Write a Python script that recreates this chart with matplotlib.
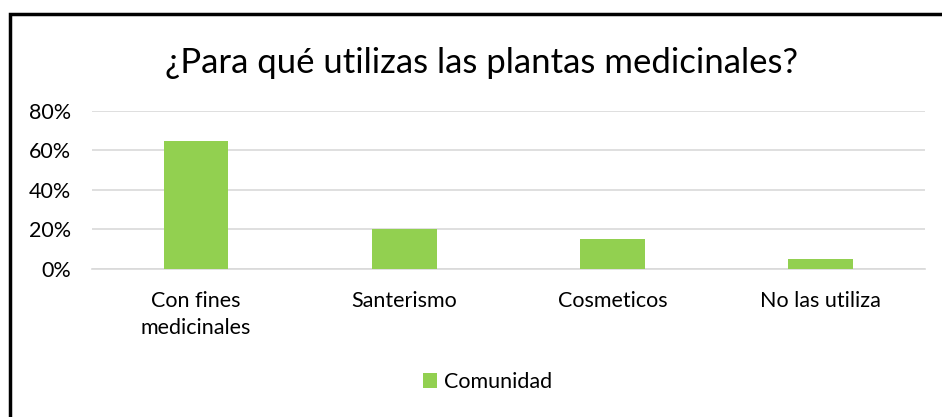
import matplotlib.pyplot as plt
from matplotlib.patches import Rectangle
from matplotlib.ticker import PercentFormatter

# data
categorias = ["Con fines\nmedicinales", "Santerismo", "Cosmeticos", "No las utiliza"]
comunidad = [0.65, 0.20, 0.15, 0.05]
ticks_y = [0, 0.2, 0.4, 0.6, 0.8]

plt.rcParams['font.family'] = ['Lato', 'DejaVu Sans']

fig = plt.figure(figsize=(9.42, 4.17), dpi=100)
ax = fig.add_axes([0.0977, 0.355, 0.884, 0.379])

x = range(len(categorias))
ax.bar(x, comunidad, width=0.31, color='#92D050', zorder=3, label='Comunidad')

ax.set_xlim(-0.5, len(categorias) - 0.5)
ax.set_ylim(0, 0.8)
ax.set_yticks(ticks_y)
ax.yaxis.set_major_formatter(PercentFormatter(1.0, decimals=0))
ax.set_xticks(list(x))
ax.set_xticklabels(categorias, fontsize=15.5, linespacing=1.45)
ax.tick_params(axis='y', labelsize=15.5, length=0, pad=15)
ax.tick_params(axis='x', length=0, pad=16)
ax.grid(axis='y', color='#D9D9D9', linewidth=1.2, zorder=0)
for s in ['top', 'right', 'left']:
    ax.spines[s].set_visible(False)
ax.spines['bottom'].set_color('#D9D9D9')
ax.spines['bottom'].set_linewidth(1.2)

fig.text(0.511, 0.85, "¿Para qué utilizas las plantas medicinales?",
         ha='center', va='center', fontsize=25)

fig.legend(loc='center', bbox_to_anchor=(0.5175, 0.084), frameon=False,
           fontsize=15.5, handlelength=0.65, handleheight=0.65,
           handletextpad=0.35)

# black frame around the chart, cut off at right and bottom
fig.patches.append(Rectangle((0.0105, -0.1), 1.2, 0.8665 + 0.1 + 0.1,
                             transform=fig.transFigure, fill=False,
                             edgecolor='black', linewidth=2.5))

fig.savefig('out.png', dpi=100)
